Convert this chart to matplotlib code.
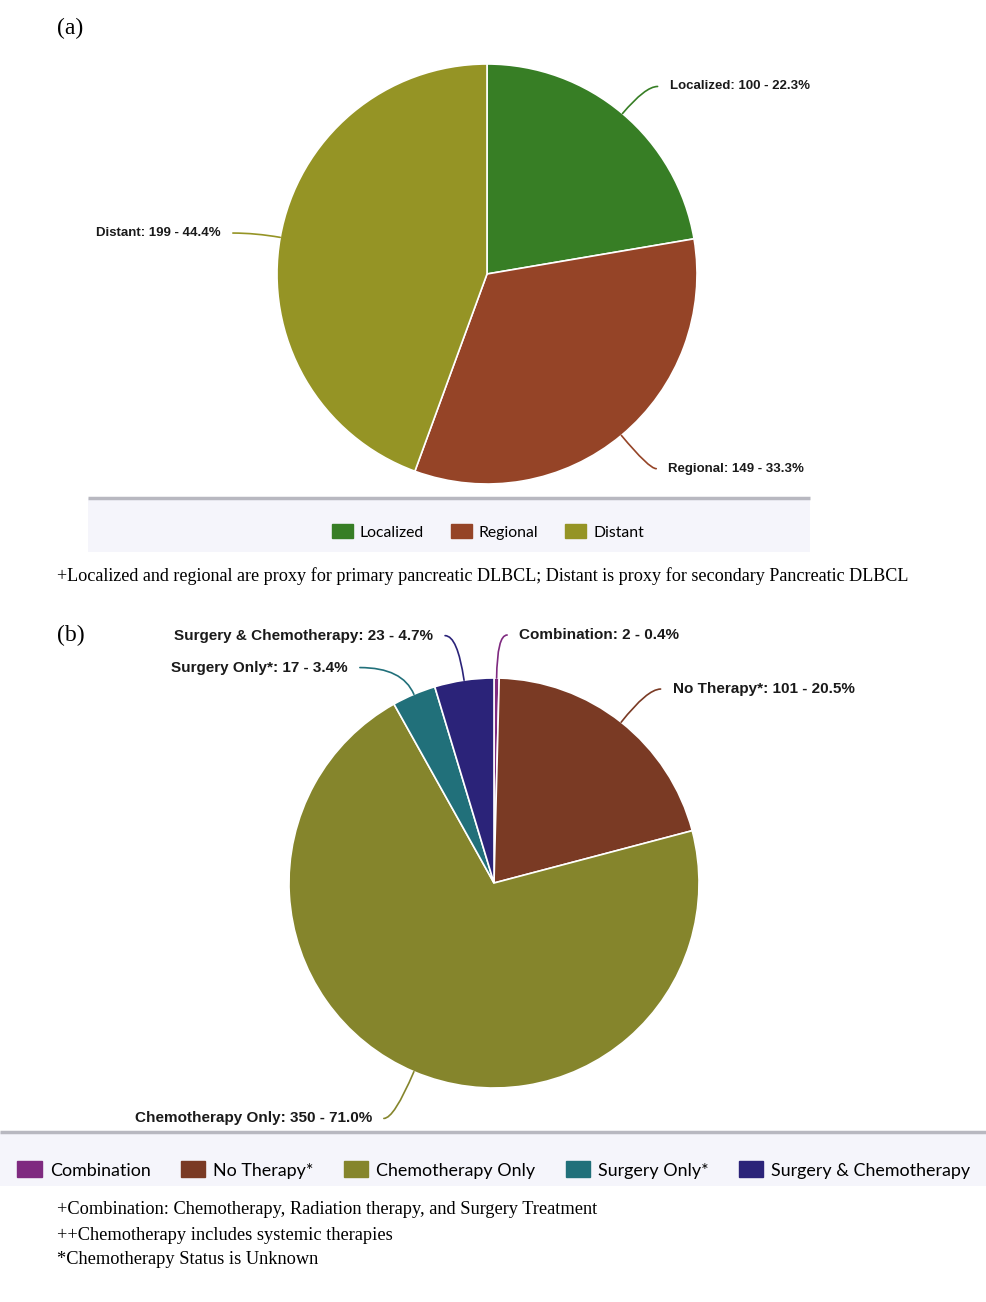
import numpy as np
import matplotlib
matplotlib.use("Agg")
import matplotlib.pyplot as plt
from matplotlib.patches import Rectangle, Patch

# figure size in pixels
W, H = 986, 1302

# (a) stage at diagnosis
stage_labels = ["Localized", "Regional", "Distant"]
stage_counts = [100, 149, 199]
stage_pcts = ["22.3%", "33.3%", "44.4%"]
stage_colors = ["#377e25", "#954427", "#959425"]

# (b) treatment
tx_labels = ["Combination", "No Therapy*", "Chemotherapy Only", "Surgery Only*",
             "Surgery & Chemotherapy"]
tx_counts = [2, 101, 350, 17, 23]
tx_pcts = ["0.4%", "20.5%", "71.0%", "3.4%", "4.7%"]
tx_colors = ["#7f2a80", "#7a3a24", "#85852c", "#21707a", "#2b2379"]

note_a = ("+Localized and regional are proxy for primary pancreatic DLBCL; "
          "Distant is proxy for secondary Pancreatic DLBCL")
notes_b = ["+Combination: Chemotherapy, Radiation therapy, and Surgery Treatment",
           "++Chemotherapy includes systemic therapies",
           "*Chemotherapy Status is Unknown"]

serif = "Liberation Serif"

fig = plt.figure(figsize=(W / 100, H / 100), dpi=100, facecolor="white")

# background axes in pixel coordinates (y down)
base = fig.add_axes([0, 0, 1, 1])
base.set_xlim(0, W)
base.set_ylim(H, 0)
base.axis("off")


def legend_band(x0, x1, y0, y1):
    base.add_patch(Rectangle((x0, y0), x1 - x0, y1 - y0, facecolor="#f5f5fb",
                             edgecolor="none", zorder=0))
    base.plot([x0, x1], [y0, y0], color="#b8b8c0", lw=2.5, zorder=1,
              solid_capstyle="butt")


def draw_pie(cx, cy, R, counts, pcts, labels, colors, nudges, fsize):
    ax = fig.add_axes([0, 0, 1, 1])
    ax.patch.set_alpha(0)
    ax.pie(counts, colors=colors, startangle=90, counterclock=False, radius=R,
           wedgeprops=dict(edgecolor="white", linewidth=1.2))
    ax.set_xlim(-cx, W - cx)
    ax.set_ylim(-(H - cy), cy)
    ax.axis("off")

    fracs = np.array(counts) / np.sum(counts)
    mids = np.cumsum(fracs) - fracs / 2
    for lab, n, p, c, m, (dx, dy) in zip(labels, counts, pcts, colors, mids, nudges):
        theta = 90 - 360 * m
        t = np.radians(theta)
        edge = (R * np.cos(t), R * np.sin(t))
        end = (1.2 * R * np.cos(t) + dx, 1.2 * R * np.sin(t) + dy)
        right = end[0] > 0
        ax.annotate("", xy=edge, xytext=end,
                    arrowprops=dict(arrowstyle="-", color=c, lw=1.2,
                                    shrinkA=0, shrinkB=0,
                                    connectionstyle=f"angle3,angleA=0,angleB={theta:.1f}"))
        ax.text(end[0] + (12 if right else -12), end[1], f"{lab}: {n} - {p}",
                ha="left" if right else "right", va="center",
                family="Liberation Sans", weight="bold", size=fsize, color="#1a1a1a")
    return ax


# ---- panel (a)
base.text(57, 28, "(a)", fontsize=17, family=serif, va="center", ha="left")
legend_band(88, 810, 498, 552)
draw_pie(487, 274, 210, stage_counts, stage_pcts, stage_labels, stage_colors,
         [(8, -5), (8, -1), (-6, -3)], 9.5)
fig.legend(handles=[Patch(facecolor=c, edgecolor=c) for c in stage_colors],
           labels=stage_labels, loc="center", bbox_to_anchor=(488 / W, 1 - 532 / H),
           ncol=3, frameon=False, prop=dict(family="Lato", size=11.3),
           handlelength=1.35, handleheight=1.0, handletextpad=0.45, columnspacing=1.7)
base.text(57, 576, note_a, fontsize=13.1, family=serif, va="center", ha="left")

# ---- panel (b)
base.text(57, 635, "(b)", fontsize=17, family=serif, va="center", ha="left")
legend_band(0, W, 1132, 1186)
draw_pie(494, 883, 205, tx_counts, tx_pcts, tx_labels, tx_colors,
         [(10, 2), (14, 1), (-14, -9), (-38, -11), (-13, 4)], 11)
fig.legend(handles=[Patch(facecolor=c, edgecolor=c) for c in tx_colors],
           labels=tx_labels, loc="center", bbox_to_anchor=(494 / W, 1 - 1170 / H),
           ncol=5, frameon=False, prop=dict(family="Lato", size=12.9),
           handlelength=1.35, handleheight=1.0, handletextpad=0.45, columnspacing=1.7)
for i, line in enumerate(notes_b):
    base.text(57, 1210 + 25 * i, line, fontsize=13.25, family=serif, va="center", ha="left")

fig.savefig("out.png", dpi=100, facecolor="white")
